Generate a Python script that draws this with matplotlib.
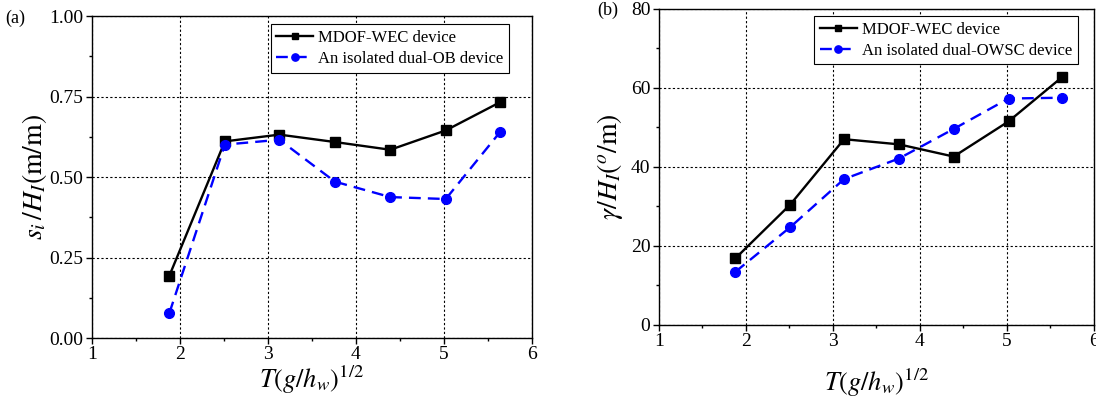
import numpy as np
import matplotlib
matplotlib.use("Agg")
import matplotlib.pyplot as plt
from matplotlib.ticker import MultipleLocator, FormatStrFormatter

plt.rcParams['font.family'] = ['Liberation Serif', 'DejaVu Serif']
plt.rcParams['mathtext.fontset'] = 'stix'

# data
t_norm = [1.88, 2.51, 3.13, 3.76, 4.39, 5.02, 5.64]
surge_mdof = [0.194, 0.611, 0.632, 0.609, 0.585, 0.645, 0.733]
surge_ob = [0.078, 0.601, 0.616, 0.486, 0.438, 0.432, 0.641]
pitch_mdof = [16.8, 30.4, 47.0, 45.7, 42.6, 51.5, 62.8]
pitch_owsc = [13.4, 24.7, 36.9, 42.1, 49.6, 57.3, 57.5]

fig = plt.figure(figsize=(10.96, 4.03), dpi=100)
ax1 = fig.add_axes([0.0839, 0.161, 0.4015, 0.799])
ax2 = fig.add_axes([0.601, 0.194, 0.397, 0.784])


def style(ax, ymax, ymaj, ymin, xpad):
    ax.set_xlim(1, 6)
    ax.set_ylim(0, ymax)
    ax.xaxis.set_major_locator(MultipleLocator(1))
    ax.xaxis.set_minor_locator(MultipleLocator(0.5))
    ax.yaxis.set_major_locator(MultipleLocator(ymaj))
    ax.yaxis.set_minor_locator(MultipleLocator(ymin))
    ax.tick_params(which='major', direction='out', length=4, width=1.0,
                   labelsize=14, pad=2)
    ax.tick_params(which='minor', direction='out', length=2.5, width=1.0)
    ax.grid(True, which='major', color='black', linestyle=(0, (2, 2)), linewidth=0.8)
    for s in ax.spines.values():
        s.set_linewidth(1.0)
    ax.set_xlabel(r'$T(g/h_w)^{1/2}$', fontsize=19, labelpad=xpad)


def legend(ax, anchor):
    leg = ax.legend(loc='upper right', bbox_to_anchor=anchor, fontsize=12,
                    frameon=True, fancybox=False, edgecolor='black',
                    handlelength=2.2, borderaxespad=0, borderpad=0.35,
                    labelspacing=0.3, handletextpad=0.3, markerscale=0.75)
    leg.get_frame().set_linewidth(0.8)
    leg.get_frame().set_alpha(1)


ax1.plot(t_norm, surge_mdof, color='black', linestyle='-', linewidth=1.7,
         marker='s', markersize=6.5, label='MDOF-WEC device')
ax1.plot(t_norm, surge_ob, color='#0000ff', linestyle=(0, (5, 3)), linewidth=1.7,
         marker='o', markersize=7, label='An isolated dual-OB device')
style(ax1, 1.0, 0.25, 0.125, 0)
ax1.yaxis.set_major_formatter(FormatStrFormatter('%.2f'))
ax1.set_ylabel(r'$s_i\,/H_I(\mathrm{m/m})$', fontsize=20, labelpad=0)
legend(ax1, (0.948, 0.975))
fig.text(0.005, 0.955, '(a)', fontsize=13, va='center')

ax2.plot(t_norm, pitch_mdof, color='black', linestyle='-', linewidth=1.7,
         marker='s', markersize=6.5, label='MDOF-WEC device')
ax2.plot(t_norm, pitch_owsc, color='#0000ff', linestyle=(0, (5, 3)), linewidth=1.7,
         marker='o', markersize=7, label='An isolated dual-OWSC device')
style(ax2, 80, 20, 10, 12)
ax2.set_ylabel(r'$\gamma/H_I(^o/\mathrm{m})$', fontsize=20, labelpad=4)
legend(ax2, (0.963, 0.978))
fig.text(0.545, 0.975, '(b)', fontsize=13, va='center')

fig.savefig('out.png', dpi=100)
